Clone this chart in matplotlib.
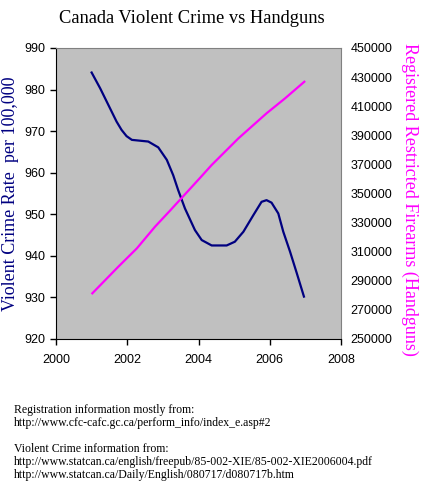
import matplotlib
matplotlib.use("Agg")
import matplotlib.pyplot as plt

crime_years = [2001.00, 2001.24, 2001.47, 2001.70, 2001.84, 2001.98, 2002.13, 2002.59,
               2002.87, 2003.11, 2003.29, 2003.43, 2003.62, 2003.76, 2003.90, 2004.09,
               2004.37, 2004.79, 2005.02, 2005.26, 2005.54, 2005.77, 2005.91, 2006.05,
               2006.24, 2006.38, 2006.57, 2006.76, 2006.96]
crime_rate = [984.1, 980.3, 976.3, 972.3, 970.3, 968.8, 967.9, 967.5,
              966.1, 963.1, 959.4, 955.8, 951.4, 948.8, 946.2, 943.8,
              942.5, 942.5, 943.4, 945.8, 949.8, 953.0, 953.4, 952.8,
              950.2, 945.8, 941.0, 935.8, 930.2]

gun_years = [2001.02, 2001.75, 2002.27, 2002.78, 2003.20, 2003.99, 2004.37,
             2005.12, 2005.91, 2006.43, 2006.97]
handguns = [281400, 299700, 312300, 327200, 338200, 359300, 369600,
            387900, 405100, 415400, 426800]

x_ticks = [2000, 2002, 2004, 2006, 2008]
crime_ticks = [920, 930, 940, 950, 960, 970, 980, 990]
gun_ticks = list(range(250000, 450001, 20000))

title = "Canada Violent Crime vs Handguns"
notes = ["Registration information mostly from:",
         "http://www.cfc-cafc.gc.ca/perform_info/index_e.asp#2",
         "",
         "Violent Crime information from:",
         "http://www.statcan.ca/english/freepub/85-002-XIE/85-002-XIE2006004.pdf",
         "http://www.statcan.ca/Daily/English/080717/d080717b.htm"]

W, H = 429, 497
fig = plt.figure(figsize=(W / 100, H / 100), dpi=100)
ax = fig.add_axes([56 / W, 1 - 339 / H, 285 / W, 291 / H])
ax.set_facecolor("#C0C0C0")
ax.plot(crime_years, crime_rate, color="#000080", lw=1.6)
ax.set_xlim(2000, 2008)
ax.set_ylim(920, 990)
ax.set_xticks(x_ticks)
ax.set_yticks(crime_ticks)

tick_font = dict(family="Liberation Sans", size=9)
ax.set_xticklabels([str(t) for t in x_ticks], **tick_font)
ax.set_yticklabels([str(t) for t in crime_ticks], **tick_font)
ax.tick_params(axis="both", direction="out", length=4, width=1, color="black")
ax.tick_params(axis="x", pad=7)
ax.tick_params(axis="y", pad=4)
for side in ["left", "bottom"]:
    ax.spines[side].set_color("black")
for side in ["top", "right"]:
    ax.spines[side].set_color("#808080")

ax2 = ax.twinx()
ax2.plot(gun_years, handguns, color="#FF00FF", lw=1.6)
ax2.set_ylim(250000, 450000)
ax2.set_yticks(gun_ticks)
ax2.set_yticklabels([str(t) for t in gun_ticks], **tick_font)
ax2.tick_params(axis="y", length=0, pad=7)
for side in ax2.spines:
    ax2.spines[side].set_visible(False)

fig.text(192 / W, 1 - 23 / H, title, family="Liberation Serif", size=13.3,
         ha="center", va="baseline")
fig.text(11 / W, 1 - 194 / H, "Violent Crime Rate  per 100,000", family="Liberation Serif",
         size=13, color="#000080", rotation=90, ha="center", va="center")
fig.text(410 / W, 1 - 199 / H, "Registered Restricted Firearms (Handguns)",
         family="Liberation Serif", size=13, color="#FF00FF", rotation=270,
         ha="center", va="center")

for i, line in enumerate(notes):
    fig.text(14 / W, 1 - (410 + 13 * i) / H, line, family="Liberation Serif",
             size=8.5, ha="left", va="center")

fig.savefig("out.png", dpi=100)
